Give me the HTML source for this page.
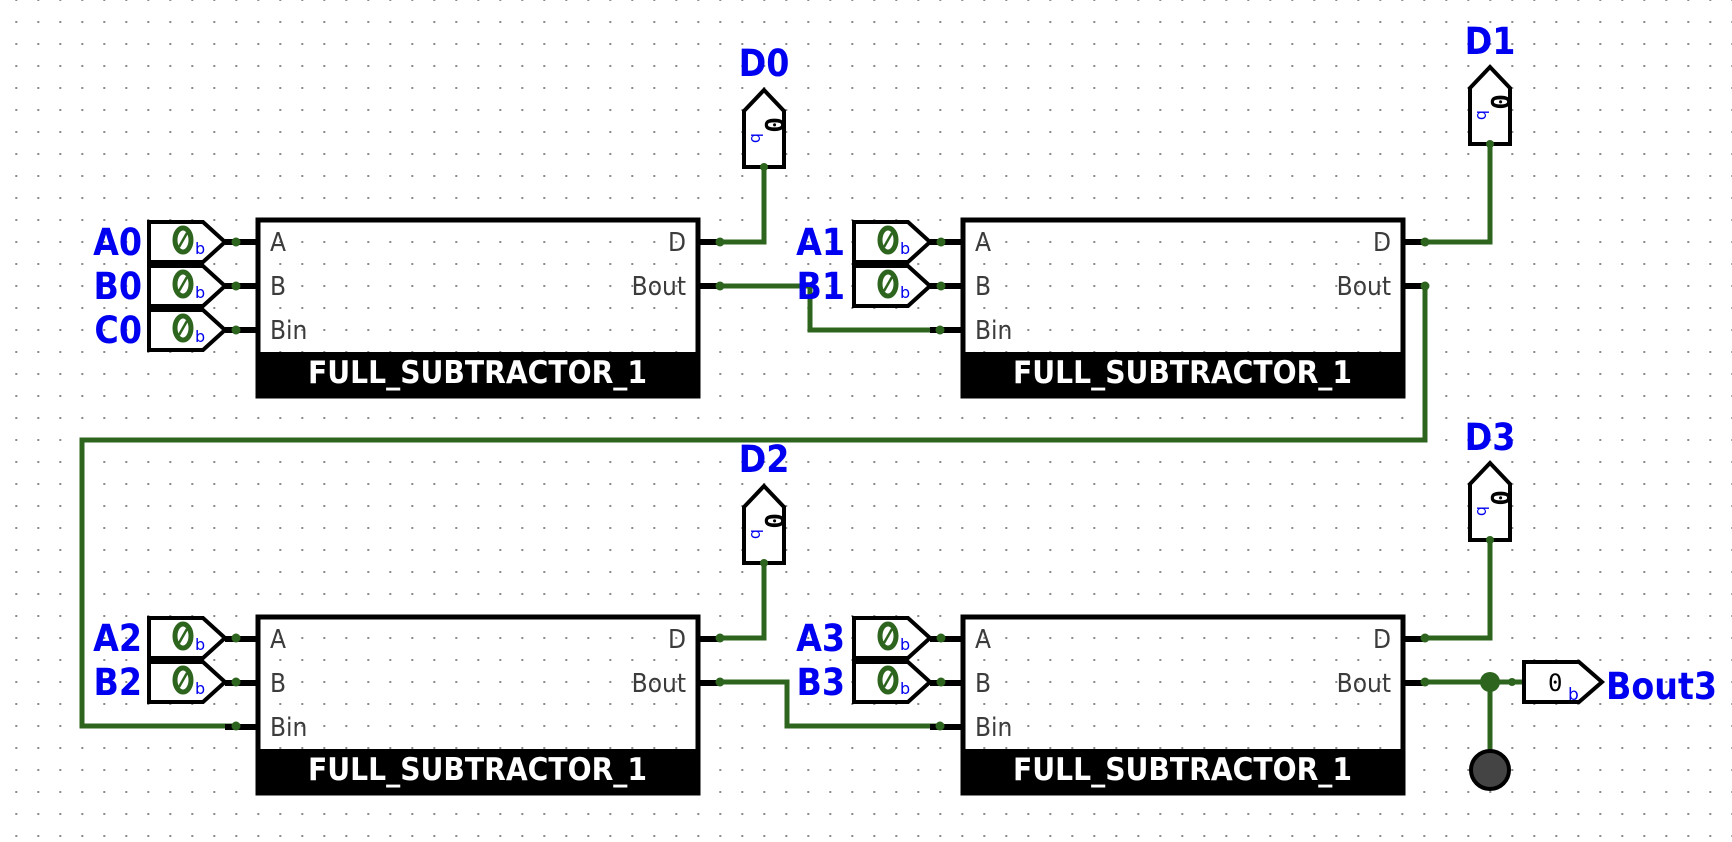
<!DOCTYPE html>
<html><head><meta charset="utf-8"><style>
html,body{margin:0;padding:0;background:#fff;}
svg{display:block;}
.lbl{font-family:"DejaVu Sans Condensed","DejaVu Sans","Liberation Sans",sans-serif;font-weight:bold;fill:#0000f0;font-size:37px;}
.pin{font-family:"DejaVu Sans Condensed","DejaVu Sans","Liberation Sans",sans-serif;fill:#3c3c3c;font-size:26px;}
.hdr{font-family:"DejaVu Sans Condensed","DejaVu Sans","Liberation Sans",sans-serif;font-weight:bold;fill:#fff;font-size:31px;}
.w{stroke:#2d641e;stroke-width:5;fill:none;stroke-linecap:square;}
.stub{stroke:#000;stroke-width:6;}
</style></head><body>
<svg width="1732" height="842" viewBox="0 0 1732 842" xmlns="http://www.w3.org/2000/svg">
<defs>
<pattern id="g" x="15.3" y="-1" width="22" height="22" patternUnits="userSpaceOnUse">
<rect x="0" y="0" width="2" height="2" fill="#8a8a8a"/>
</pattern>
<g id="blk">
<rect x="0" y="0" width="440" height="176" fill="none" stroke="#000" stroke-width="5"/>
<rect x="0" y="132" width="440" height="44" fill="#000"/>
<text class="pin" x="12" y="31">A</text>
<text class="pin" x="12" y="75">B</text>
<text class="pin" x="12" y="119">Bin</text>
<text class="pin" x="428" y="31" text-anchor="end">D</text>
<text class="pin" x="428" y="75" text-anchor="end">Bout</text>
<text class="hdr" x="50" y="163" textLength="339" lengthAdjust="spacingAndGlyphs">FULL_SUBTRACTOR_1</text>
<line class="stub" x1="-33" y1="22" x2="0" y2="22"/>
<line class="stub" x1="-33" y1="66" x2="0" y2="66"/>
<line class="stub" x1="-33" y1="110" x2="0" y2="110"/>
<line class="stub" x1="440" y1="22" x2="463" y2="22"/>
<line class="stub" x1="440" y1="66" x2="463" y2="66"/>
</g>
<g id="inp">
<path d="M-109,-20 L-55,-20 L-33,0 L-55,20 L-109,20 Z" fill="#fff" stroke="#000" stroke-width="4"/>
<ellipse cx="-75" cy="-2" rx="8" ry="12" fill="none" stroke="#2d641e" stroke-width="5"/>
<line x1="-79" y1="5" x2="-71" y2="-9" stroke="#2d641e" stroke-width="2.5"/>
<text x="-63" y="12" font-family="DejaVu Sans,sans-serif" font-size="16" fill="#0000f0">b</text>
<circle cx="-22" cy="0" r="4.5" fill="#2d641e"/>
</g>
<g id="outp">
<path d="M-20,0 L-20,-56 L0,-77 L20,-56 L20,0 Z" fill="#fff" stroke="#000" stroke-width="4"/>
<g transform="translate(0,-38) rotate(90)">
<text x="-12" y="-1" font-family="DejaVu Sans Mono,Liberation Mono,monospace" font-weight="bold" font-size="26" fill="#000">0</text>
<text x="4" y="13" font-family="DejaVu Sans,sans-serif" font-size="16" fill="#0000f0">b</text>
</g>
<circle cx="0" cy="0" r="4" fill="#2d641e"/>
</g>
</defs>
<rect width="1732" height="842" fill="#fff"/>
<rect width="1732" height="842" fill="url(#g)"/>

<!-- wires -->
<polyline class="w" points="720,242 764,242 764,167"/>
<polyline class="w" points="720,286 810,286 810,330 940,330"/>
<polyline class="w" points="1425,242 1490,242 1490,144"/>
<polyline class="w" points="1425,286 1425,440 82,440 82,726 236,726"/>
<polyline class="w" points="720,638 764,638 764,563"/>
<polyline class="w" points="720,682 787,682 787,726 940,726"/>
<polyline class="w" points="1425,638 1490,638 1490,540"/>
<polyline class="w" points="1425,682 1524,682"/>
<line class="w" x1="1490" y1="682" x2="1490" y2="752"/>

<!-- blocks -->
<use href="#blk" x="258" y="220"/>
<use href="#blk" x="963" y="220"/>
<use href="#blk" x="258" y="617"/>
<use href="#blk" x="963" y="617"/>

<!-- wire dots -->
<g fill="#2d641e">
<circle cx="720" cy="242" r="4.5"/><circle cx="720" cy="286" r="4.5"/>
<circle cx="1425" cy="242" r="4.5"/><circle cx="1425" cy="286" r="4.5"/>
<circle cx="720" cy="638" r="4.5"/><circle cx="720" cy="682" r="4.5"/>
<circle cx="1425" cy="638" r="4.5"/><circle cx="1425" cy="682" r="4.5"/>
<circle cx="940" cy="330" r="4.5"/><circle cx="236" cy="726" r="4.5"/><circle cx="940" cy="726" r="4.5"/>
<circle cx="1490" cy="682" r="10"/><circle cx="1512" cy="682" r="4"/>
</g>

<!-- inputs -->
<use href="#inp" x="258" y="242"/>
<use href="#inp" x="258" y="286"/>
<use href="#inp" x="258" y="330"/>
<use href="#inp" x="963" y="242"/>
<use href="#inp" x="963" y="286"/>
<use href="#inp" x="258" y="638"/>
<use href="#inp" x="258" y="682"/>
<use href="#inp" x="963" y="638"/>
<use href="#inp" x="963" y="682"/>

<text class="lbl" x="142" y="255" text-anchor="end">A0</text>
<text class="lbl" x="142" y="299" text-anchor="end">B0</text>
<text class="lbl" x="142" y="343" text-anchor="end">C0</text>
<text class="lbl" x="845" y="255" text-anchor="end">A1</text>
<text class="lbl" x="845" y="299" text-anchor="end">B1</text>
<text class="lbl" x="142" y="651" text-anchor="end">A2</text>
<text class="lbl" x="142" y="695" text-anchor="end">B2</text>
<text class="lbl" x="845" y="651" text-anchor="end">A3</text>
<text class="lbl" x="845" y="695" text-anchor="end">B3</text>

<!-- outputs -->
<use href="#outp" x="764" y="167"/>
<use href="#outp" x="1490" y="144"/>
<use href="#outp" x="764" y="563"/>
<use href="#outp" x="1490" y="540"/>
<text class="lbl" x="764" y="76" text-anchor="middle">D0</text>
<text class="lbl" x="1490" y="54" text-anchor="middle">D1</text>
<text class="lbl" x="764" y="472" text-anchor="middle">D2</text>
<text class="lbl" x="1490" y="450" text-anchor="middle">D3</text>

<!-- Bout3 -->
<path d="M1524,662 L1579,662 L1602,682 L1579,702 L1524,702 Z" fill="#fff" stroke="#000" stroke-width="4"/>
<text x="1548" y="691" font-family="DejaVu Sans Mono,Liberation Mono,monospace" font-size="24" fill="#000">0</text>
<text x="1568" y="700" font-family="DejaVu Sans,sans-serif" font-size="17" fill="#0000f0">b</text>
<text class="lbl" x="1606" y="699">Bout3</text>

<!-- ground -->
<circle cx="1490" cy="770" r="19" fill="#444" stroke="#000" stroke-width="4"/>
</svg>
</body></html>
